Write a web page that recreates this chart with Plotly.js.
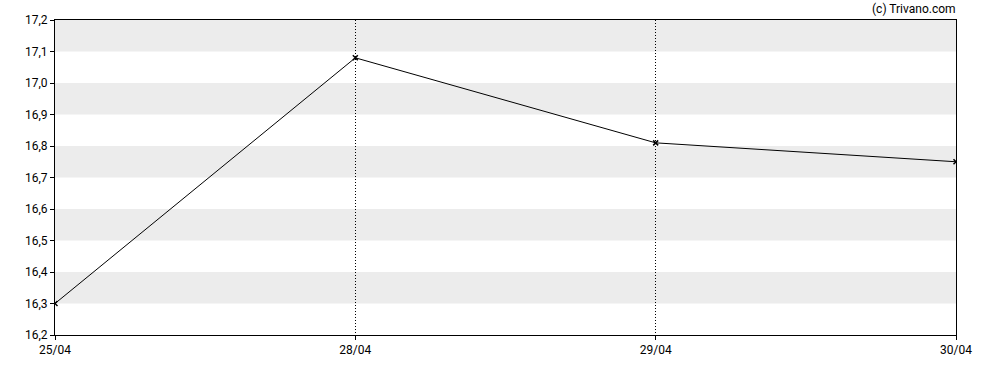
<!DOCTYPE html>
<html>
<head>
<meta charset="utf-8">
<script src="https://cdn.plot.ly/plotly-3.0.1.min.js"></script>
<style>html,body{margin:0;padding:0;background:#fff;}#chart{width:988px;height:370px;}</style>
</head>
<body>
<div id="chart"></div>
<script>
const dates = ["25/04", "28/04", "29/04", "30/04"];
const prices = [16.30, 17.08, 16.81, 16.75];
const yTicks = [16.2, 16.3, 16.4, 16.5, 16.6, 16.7, 16.8, 16.9, 17.0, 17.1, 17.2];
const bandStarts = [16.3, 16.5, 16.7, 16.9, 17.1];

const shapes = bandStarts.map(b => ({
  type: 'rect', xref: 'paper', yref: 'y', x0: 0, x1: 1, y0: b, y1: b + 0.1,
  fillcolor: '#ececec', line: {width: 0}, layer: 'below'
}));

const trace = {
  x: dates, y: prices, type: 'scatter', mode: 'lines+markers',
  line: {color: '#000000', width: 1},
  marker: {symbol: 'x-thin-open', size: 5, color: '#000000', line: {width: 1.5, color: '#000000'}},
  hoverinfo: 'skip'
};

const layout = {
  width: 988, height: 370,
  margin: {l: 55, r: 32, t: 20, b: 35},
  paper_bgcolor: '#ffffff', plot_bgcolor: '#ffffff',
  separators: ',.',
  font: {family: 'Roboto, Arial, sans-serif', size: 12, color: '#000000'},
  showlegend: false,
  shapes: shapes,
  xaxis: {
    type: 'category', range: [0, 3],
    showgrid: true, gridcolor: '#000000', gridwidth: 1, griddash: '1px,2px',
    showline: true, linecolor: '#000000', linewidth: 1, mirror: true,
    ticks: 'outside', ticklen: 4, tickcolor: '#000000',
    zeroline: false, fixedrange: true
  },
  yaxis: {
    range: [16.2, 17.2], tickvals: yTicks, tickformat: '.1f',
    showgrid: false, zeroline: false,
    showline: true, linecolor: '#000000', linewidth: 1, mirror: true,
    ticks: 'outside', ticklen: 4, tickcolor: '#000000', fixedrange: true
  },
  annotations: [{
    text: '(c) Trivano.com', xref: 'paper', yref: 'paper', x: 1.002, y: 1,
    xanchor: 'right', yanchor: 'bottom', showarrow: false, yshift: 2,
    font: {family: 'Roboto, Arial, sans-serif', size: 12, color: '#000000'}
  }]
};

Plotly.newPlot('chart', [trace], layout, {displayModeBar: false, staticPlot: true});
</script>
</body>
</html>
